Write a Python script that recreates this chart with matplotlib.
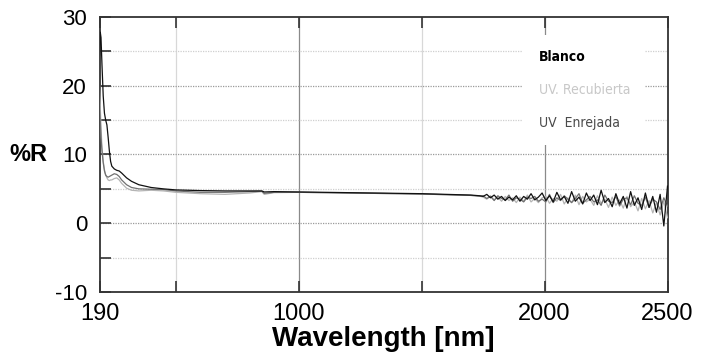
import numpy as np
import matplotlib

matplotlib.use("Agg")
import matplotlib.pyplot as plt
from matplotlib.lines import Line2D

# ---------------------------------------------------------------------------
# Reflectance spectra (%R vs wavelength, nm)
# ---------------------------------------------------------------------------

# smooth part of the spectra
wl_smooth = [190, 193, 196, 200, 205, 210, 215, 220, 225, 230, 235, 240, 250,
             260, 270, 280, 300, 320, 350, 400, 450, 500, 600, 700, 800, 850,
             860, 900, 1000, 1100, 1200, 1300, 1400, 1500, 1600, 1700, 1735]
blanco_smooth = [24.5, 27.8, 27.0, 23.0, 18.5, 16.0, 15.0, 14.3, 12.5, 10.5,
                 9.0, 8.3, 7.9, 7.7, 7.6, 7.3, 6.6, 6.1, 5.6, 5.2, 5.0, 4.85,
                 4.75, 4.7, 4.7, 4.7, 4.55, 4.6, 4.55, 4.5, 4.45, 4.4, 4.35,
                 4.3, 4.2, 4.1, 4.0]
recub_smooth = [20.0, 17.0, 14.0, 11.0, 9.0, 7.8, 7.0, 6.6, 6.3, 6.2, 6.3,
                6.3, 6.5, 6.6, 6.3, 5.8, 5.1, 4.8, 4.7, 4.8, 4.7, 4.5, 4.3,
                4.2, 4.4, 4.6, 4.2, 4.45, 4.5, 4.45, 4.4, 4.35, 4.3, 4.25,
                4.15, 4.05, 3.95]
enrej_smooth = [17.0, 15.0, 12.5, 10.5, 8.8, 7.6, 7.0, 6.8, 6.7, 6.8, 6.9,
                7.0, 7.2, 7.1, 6.8, 6.3, 5.6, 5.2, 5.0, 4.95, 4.9, 4.7, 4.5,
                4.5, 4.6, 4.65, 4.35, 4.5, 4.5, 4.45, 4.4, 4.35, 4.3, 4.25,
                4.15, 4.05, 3.95]

# noisy NIR part (read every 15 nm)
wl_noisy = list(range(1750, 2501, 15))
blanco_noisy = [3.9, 4.2, 3.7, 4.1, 3.5, 3.9, 3.3, 3.8, 3.4, 4.0,
                3.2, 3.9, 3.5, 4.3, 3.4, 3.8, 4.4, 3.3, 4.0, 3.1,
                4.5, 3.4, 3.9, 2.9, 4.6, 3.2, 3.8, 2.8, 4.4, 3.3,
                4.1, 2.7, 4.8, 3.0, 3.6, 2.4, 4.3, 2.8, 3.9, 2.2,
                4.6, 2.6, 3.7, 2.0, 4.4, 2.3, 3.9, 1.6, 4.2, -0.4, 5.4]
recub_noisy = [3.8, 3.5, 4.0, 3.4, 3.8, 3.2, 3.9, 3.3, 3.7, 3.0,
               3.8, 3.2, 4.1, 3.1, 3.6, 3.0, 3.7, 3.9, 2.9, 3.6,
               3.2, 4.2, 2.8, 3.7, 3.0, 4.1, 2.7, 3.9, 3.1, 3.5,
               2.6, 4.0, 2.9, 3.5, 2.3, 3.8, 2.6, 3.4, 2.2, 3.9,
               2.4, 3.1, 1.8, 3.6, 2.1, 3.3, 1.5, 3.0, 1.2, 3.2, 0.8]
enrej_noisy = [4.0, 3.6, 3.9, 3.3, 4.0, 3.6, 3.4, 4.1, 3.2, 3.7,
               3.5, 3.1, 3.8, 3.6, 3.9, 3.2, 3.5, 3.1, 4.2, 3.0,
               3.7, 3.3, 4.0, 3.5, 3.0, 3.6, 4.3, 2.9, 3.4, 3.9,
               3.1, 3.4, 2.6, 4.1, 3.2, 3.0, 3.9, 2.5, 3.5, 3.7,
               2.7, 4.0, 2.9, 2.6, 3.8, 2.3, 3.5, 3.1, 2.0, 3.7, 2.5]

labels = ["Blanco", "UV. Recubierta", "UV  Enrejada"]
line_colors = ["#111111", "#b4b4b4", "#707070"]
label_colors = ["#000000", "#c8c8c8", "#4a4a4a"]

x_ticks = [190, 500, 1000, 1500, 2000, 2500]
x_ticklabels = ["190", "", "1000", "", "2000", "2500"]
y_ticks = [-10, -5, 0, 5, 10, 15, 20, 25, 30]
y_ticklabels = ["-10", "", "0", "", "10", "", "20", "", "30"]

# ---------------------------------------------------------------------------
# Plot
# ---------------------------------------------------------------------------

plt.rcParams["font.family"] = ["Liberation Sans", "DejaVu Sans"]

fig = plt.figure(figsize=(7.13, 3.52), dpi=100)
ax = fig.add_axes([0.1396, 0.1705, 0.7966, 0.7812])

wl = np.array(wl_smooth + wl_noisy)
series = [blanco_smooth + blanco_noisy,
          recub_smooth + recub_noisy,
          enrej_smooth + enrej_noisy]

# draw grey curves first, black on top
for idx in [1, 2, 0]:
    ax.plot(wl, series[idx], color=line_colors[idx], lw=0.9, zorder=3)

ax.set_xlim(190, 2500)
ax.set_ylim(-10, 30)

# grid: minor/major look
for v in [500, 1500]:
    ax.axvline(v, color="#d8d8d8", lw=0.9, zorder=1)
for v in [1000, 2000]:
    ax.axvline(v, color="#8a8a8a", lw=0.9, zorder=1)
for v in y_ticks[1:-1]:
    c = "#9a9a9a" if v % 10 == 0 else "#cfcfcf"
    ax.axhline(v, color=c, lw=0.9, ls=(0, (1, 1)), zorder=1)

ax.set_xticks(x_ticks)
ax.set_xticklabels(x_ticklabels)
ax.set_yticks(y_ticks)
ax.set_yticklabels(y_ticklabels)
ax.tick_params(axis="both", direction="in", length=8, width=1.2,
               color="#333333", labelsize=16)
ax.tick_params(axis="x", top=True, pad=8, labelsize=17)
ax.tick_params(axis="y", pad=9)

for sp in ax.spines.values():
    sp.set_color("#333333")
    sp.set_linewidth(1.3)

ax.set_xlabel("Wavelength [nm]", fontsize=20, fontweight="bold", labelpad=1)
ax.set_ylabel("%R", fontsize=17, fontweight="bold", rotation=0,
              labelpad=19, va="center")

# legend: text only, on a white patch hiding the grid
handles = [Line2D([], [], color="none") for _ in labels]
leg = ax.legend(handles, labels, loc="upper left",
                bbox_to_anchor=(0.746, 0.935), handlelength=0,
                handletextpad=0, frameon=True, fancybox=False,
                borderpad=1.1, labelspacing=1.35, borderaxespad=0,
                prop={"family": "DejaVu Sans", "stretch": "condensed",
                      "size": 10})
leg.get_frame().set_facecolor("white")
leg.get_frame().set_edgecolor("none")
leg.get_frame().set_alpha(1.0)
leg.set_zorder(2)
for txt, col in zip(leg.get_texts(), label_colors):
    txt.set_color(col)
leg.get_texts()[0].set_fontweight("bold")

fig.savefig("out.png", dpi=100)
